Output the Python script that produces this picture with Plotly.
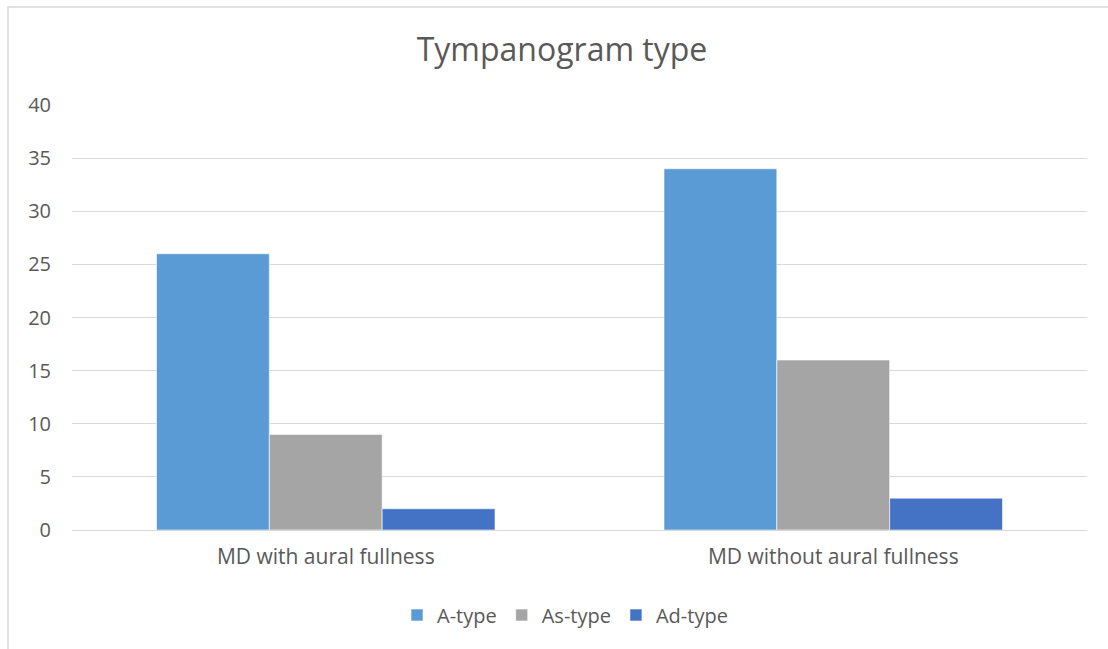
import plotly.graph_objects as go

categories = ["MD with aural fullness", "MD without aural fullness"]
series_names = ["A-type", "As-type", "Ad-type"]
a_type = [26, 34]
as_type = [9, 16]
ad_type = [2, 3]
colors = ["#5B9BD5", "#A5A5A5", "#4472C4"]
y_ticks = [0, 5, 10, 15, 20, 25, 30, 35, 40]

font_family = "Open Sans, Liberation Sans, sans-serif"
text_color = "#595959"

fig = go.Figure()
for name, vals, col in zip(series_names, [a_type, as_type, ad_type], colors):
    fig.add_trace(go.Bar(
        x=categories, y=vals, name=name,
        marker=dict(color=col, line=dict(color="white", width=0.6)),
    ))

L, R, T, B = 72, 21, 105, 119
W, H = 1108, 649
pw = W - L - R
ph = H - T - B

def px_x(p):
    return (p - L) / pw

def px_y(p):
    return (H - B - p) / ph

fig.update_layout(
    width=W, height=H,
    margin=dict(l=L, r=R, t=T, b=B, autoexpand=False),
    paper_bgcolor="white", plot_bgcolor="white",
    barmode="group", bargap=0.333, bargroupgap=0,
    font=dict(family=font_family, color=text_color, size=20),
    title=dict(text="Tympanogram type", x=562 / W, xanchor="center",
               xref="container", y=1 - 50 / H, yanchor="middle",
               font=dict(size=32, color=text_color, family=font_family)),
    legend=dict(orientation="h", x=px_x(565), xanchor="center",
                y=px_y(615), yanchor="middle",
                font=dict(size=20, color=text_color),
                itemwidth=30, tracegroupgap=0, traceorder="normal"),
    showlegend=True,
    xaxis=dict(showgrid=False, showline=False, ticks="",
               tickfont=dict(size=21, color=text_color),
               ticklabelstandoff=12),
    yaxis=dict(range=[0, 40], tickvals=y_ticks, showgrid=True,
               gridcolor="#D9D9D9", gridwidth=1.3,
               zeroline=True, zerolinecolor="#D9D9D9", zerolinewidth=1.3,
               showline=False, ticks="",
               tickfont=dict(size=20, color=text_color),
               ticklabelstandoff=20),
    shapes=[dict(type="rect", xref="paper", yref="paper",
                 x0=px_x(8), x1=px_x(1112), y0=px_y(655), y1=px_y(7),
                 line=dict(color="#D9D9D9", width=1.5),
                 fillcolor="rgba(0,0,0,0)", layer="below")],
)

fig.write_html("out.html")
